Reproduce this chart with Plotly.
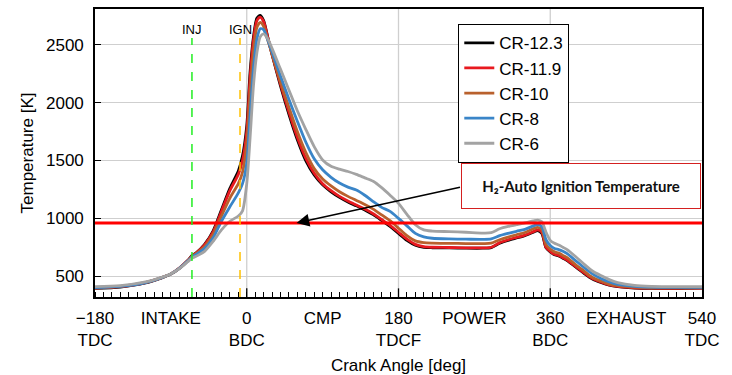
import plotly.graph_objects as go

# ---------------- data ----------------
crank_angle = [-180, -150, -120, -100, -90, -80, -70, -65, -60, -50, -40, -30, -20, -10, -5,
               0, 4, 8, 12, 16, 20, 25, 30, 40, 50, 60, 70, 80, 90, 100,
               110, 120, 130, 140, 150, 160, 170, 180, 190, 200, 210, 220, 240, 260, 280,
               290, 300, 310, 320, 330, 340, 345, 350, 355, 360, 365, 370, 375, 380, 390,
               400, 410, 420, 430, 440, 460, 480, 500, 520, 540]

cr_12_3 = [394, 406, 442, 488, 518, 568, 635, 678, 702, 775, 890, 1075, 1260, 1410, 1540,
           1800, 2270, 2570, 2730, 2755, 2710, 2565, 2415, 2145, 1900, 1680, 1500, 1375, 1290, 1230,
           1182, 1142, 1108, 1072, 1032, 982, 930, 870, 810, 768, 750, 746, 744, 742, 742,
           747, 785, 810, 830, 850, 880, 895, 870, 745, 710, 685, 675, 655, 635, 580,
           525, 476, 446, 422, 410, 398, 394, 393, 394, 396]
cr_11_9 = [398, 410, 445, 490, 520, 570, 635, 675, 700, 770, 880, 1060, 1240, 1380, 1500,
           1750, 2220, 2540, 2710, 2740, 2700, 2560, 2420, 2160, 1920, 1700, 1520, 1390, 1300, 1240,
           1190, 1150, 1115, 1080, 1040, 990, 940, 880, 820, 775, 755, 750, 748, 745, 745,
           750, 790, 815, 835, 855, 885, 900, 880, 750, 715, 690, 680, 660, 640, 585,
           530, 480, 450, 425, 412, 400, 396, 395, 396, 398]
cr_10 = [400, 411, 446, 490, 520, 568, 632, 670, 695, 755, 860, 1020, 1175, 1300, 1400,
         1650, 2100, 2450, 2650, 2695, 2660, 2540, 2420, 2180, 1960, 1750, 1570, 1430, 1340, 1280,
         1230, 1190, 1155, 1120, 1080, 1030, 980, 915, 850, 805, 790, 786, 784, 782, 782,
         785, 815, 838, 858, 878, 910, 922, 905, 775, 735, 710, 700, 680, 660, 600,
         545, 490, 458, 432, 418, 405, 400, 399, 400, 402]
cr_8 = [402, 412, 445, 490, 520, 568, 630, 665, 688, 740, 830, 975, 1100, 1220, 1300,
        1480, 1900, 2300, 2550, 2640, 2630, 2540, 2440, 2230, 2030, 1840, 1660, 1515, 1420, 1355,
        1305, 1270, 1245, 1200, 1145, 1095, 1060, 1000, 935, 870, 840, 828, 822, 820, 818,
        822, 850, 870, 888, 905, 935, 945, 930, 815, 765, 740, 730, 715, 695, 635,
        575, 520, 480, 450, 430, 412, 405, 403, 403, 404]
cr_6 = [410, 418, 450, 492, 520, 565, 625, 655, 672, 715, 800, 900, 975, 1020, 1065,
        1300, 1700, 2150, 2430, 2570, 2595, 2550, 2470, 2290, 2110, 1930, 1770, 1620, 1505, 1450,
        1425, 1405, 1380, 1350, 1320, 1265, 1200, 1130, 1035, 945, 900, 890, 885, 880, 873,
        876, 910, 930, 945, 960, 978, 985, 970, 880, 810, 785, 770, 750, 730, 670,
        605, 545, 505, 470, 445, 420, 412, 410, 410, 410]

series_names = ["CR-12.3", "CR-11.9", "CR-10", "CR-8", "CR-6"]
series_values = [cr_12_3, cr_11_9, cr_10, cr_8, cr_6]
series_colors = ["#000000", "#e8191f", "#b9612d", "#3a85c8", "#a3a3a3"]

tick_vals = [-180, -90, 0, 90, 180, 270, 360, 450, 540]
tick_text = ["\u2212180<br>TDC", "INTAKE", "0<br>BDC", "CMP", "180<br>TDCF",
             "POWER", "360<br>BDC", "EXHAUST", "540<br>TDC"]
grid_angles = [0, 180, 360]

INJ_ANGLE = -65
IGN_ANGLE = -8
MARKER_TOP = 2560
AUTO_IGN_TEMP = 960
ARROW_TIP_ANGLE = 59

FONT = "Liberation Sans, Arial, sans-serif"

fig = go.Figure()
for name, vals, col in zip(series_names, series_values, series_colors):
    fig.add_trace(go.Scatter(
        x=crank_angle, y=vals, name=name, mode="lines",
        line=dict(color=col, width=2.8, shape="spline", smoothing=0.7),
    ))

shapes = []
for g in grid_angles:
    shapes.append(dict(type="line", xref="x", yref="paper", x0=g, x1=g, y0=0, y1=1,
                       line=dict(color="#cfcfcf", width=1.3), layer="below"))
    shapes.append(dict(type="line", xref="x", yref="paper", x0=g, x1=g, y0=0, y1=0.03,
                       line=dict(color="#000000", width=1.3)))
shapes.append(dict(type="line", xref="x", yref="y", x0=-180, x1=540,
                   y0=AUTO_IGN_TEMP, y1=AUTO_IGN_TEMP, line=dict(color="#ff0000", width=3)))
shapes.append(dict(type="line", xref="x", yref="y", x0=INJ_ANGLE, x1=INJ_ANGLE,
                   y0=320, y1=MARKER_TOP, line=dict(color="#22ee22", width=1.5, dash="dash")))
shapes.append(dict(type="line", xref="x", yref="y", x0=IGN_ANGLE, x1=IGN_ANGLE,
                   y0=320, y1=MARKER_TOP, line=dict(color="#ffc000", width=1.5, dash="dash")))

annotations = [
    dict(x=INJ_ANGLE, y=MARKER_TOP, xref="x", yref="y", text="INJ", showarrow=False,
         yanchor="bottom", yshift=-1, font=dict(family=FONT, size=13, color="#000")),
    dict(x=IGN_ANGLE, y=MARKER_TOP, xref="x", yref="y", text="IGN", showarrow=False,
         yanchor="bottom", yshift=-1, font=dict(family=FONT, size=13, color="#000")),
    dict(x=0.8, y=0.384, xref="paper", yref="paper", text="<b>H\u2082-Auto Ignition Temperature</b>",
         showarrow=False, width=236, height=42, bordercolor="#d42020", borderwidth=1,
         bgcolor="white", font=dict(family="Lato, sans-serif", size=15, color="#111"),
         xanchor="center", yanchor="middle"),
    dict(x=ARROW_TIP_ANGLE, y=AUTO_IGN_TEMP, xref="x", yref="y", text="", showarrow=True,
         ax=165, ay=-36, arrowhead=2, arrowsize=1.6, arrowwidth=1.6, arrowcolor="#000",
         standoff=0),
]

fig.update_layout(
    width=732, height=375,
    margin=dict(l=95, r=30, t=9, b=78),
    paper_bgcolor="white", plot_bgcolor="white",
    font=dict(family=FONT, size=17, color="#000"),
    shapes=shapes, annotations=annotations,
    showlegend=True,
    legend=dict(x=0.598, y=0.948, xanchor="left", yanchor="top",
                bgcolor="white", bordercolor="#000", borderwidth=1.3,
                font=dict(family=FONT, size=17, color="#000"),
                itemwidth=30),
    xaxis=dict(range=[-180, 540], tickmode="array", tickvals=tick_vals, ticktext=tick_text,
               ticks="", showgrid=False, zeroline=False, automargin=False,
               showline=True, linecolor="#000", linewidth=1.6, mirror=True,
               tickfont=dict(family=FONT, size=17), ticklabelstandoff=5,
               minor=dict(ticks="inside", dtick=10, tick0=-180, ticklen=5,
                          tickcolor="#000", tickwidth=1, showgrid=False),
               title=dict(text="Crank Angle [deg]", font=dict(family=FONT, size=17), standoff=10)),
    yaxis=dict(range=[320, 2810], tickvals=[500, 1000, 1500, 2000, 2500],
               ticks="inside", ticklen=6, tickcolor="#000", tickwidth=1.3,
               showgrid=True, gridcolor="#cfcfcf", gridwidth=1.3, zeroline=False, automargin=False,
               showline=True, linecolor="#000", linewidth=1.6, mirror=True,
               tickfont=dict(family=FONT, size=17), ticklabelstandoff=6,
               title=dict(text="Temperature [K]", font=dict(family=FONT, size=17), standoff=8)),
)

fig.write_html("out.html")
